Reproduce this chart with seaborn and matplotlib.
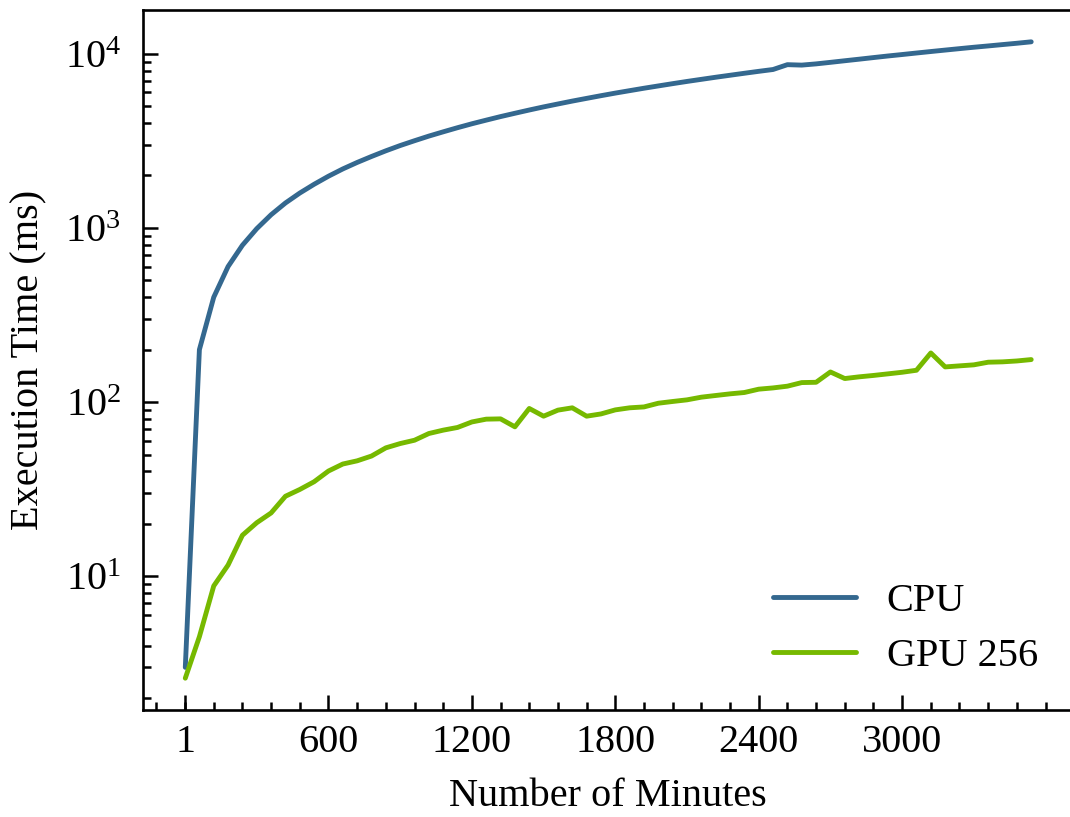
import numpy as np
import pandas as pd
import matplotlib
matplotlib.use("Agg")
import matplotlib.pyplot as plt
from matplotlib.ticker import MultipleLocator, LogLocator, FixedLocator
import seaborn as sns

# Sampling points (minutes)
minutes = [1] + list(range(60, 3541, 60))

cpu_ms = [
    3.0, 200, 400, 600, 795, 990, 1190, 1390, 1585, 1780,
    1980, 2180, 2375, 2570, 2770, 2970, 3165, 3365, 3560, 3760,
    3960, 4155, 4355, 4550, 4750, 4950, 5145, 5345, 5540, 5740,
    5940, 6135, 6335, 6530, 6730, 6930, 7125, 7325, 7520, 7720,
    7920, 8115, 8650, 8600, 8740, 8920, 9110, 9300, 9500, 9700,
    9890, 10090, 10290, 10490, 10690, 10890, 11080, 11280, 11480, 11700,
]

gpu_ms = [
    2.6, 4.5, 8.8, 11.6, 17.2, 20.3, 23.1, 28.8, 31.5, 34.9,
    40.2, 44.1, 46.0, 49.0, 54.6, 57.8, 60.4, 66.0, 69.0, 71.5,
    76.9, 79.8, 80.1, 72.1, 91.9, 83.0, 89.9, 92.7, 83.0, 85.5,
    90.2, 92.7, 93.8, 98.5, 100.8, 103.0, 106.7, 109.1, 111.5, 113.5,
    118.6, 120.6, 123.4, 129.4, 129.9, 148.9, 136.5, 139.6, 142.2, 145.2,
    148.3, 152.3, 191.4, 159.2, 161.4, 163.6, 169.4, 170.2, 172.2, 175.4,
]

series_names = ["CPU", "GPU 256"]
series_colors = ["#34688f", "#76b900"]
x_ticks = [1, 600, 1200, 1800, 2400, 3000]
x_tick_labels = ["1", "600", "1200", "1800", "2400", "3000"]

df = pd.DataFrame({
    "Number of Minutes": minutes * 2,
    "Execution Time (ms)": cpu_ms + gpu_ms,
    "Device": [series_names[0]] * len(minutes) + [series_names[1]] * len(minutes),
})

FS = 29

sns.set_theme(style="ticks")
plt.rcParams.update({
    "font.family": ["Liberation Serif", "DejaVu Serif"],
    "mathtext.fontset": "stix",
    "font.size": FS,
    "text.color": "black",
    "axes.labelcolor": "black",
    "axes.edgecolor": "black",
    "xtick.color": "black",
    "ytick.color": "black",
    "axes.linewidth": 1.9,
    "xtick.direction": "in",
    "ytick.direction": "in",
    "xtick.major.size": 10.5,
    "ytick.major.size": 10.5,
    "xtick.minor.size": 5.5,
    "ytick.minor.size": 6,
    "xtick.major.width": 1.8,
    "ytick.major.width": 1.8,
    "xtick.minor.width": 1.8,
    "ytick.minor.width": 1.8,
    "xtick.major.pad": 10,
    "ytick.major.pad": 16,
})

fig = plt.figure(figsize=(10.70, 8.17), dpi=100)
ax = fig.add_axes([143 / 1070, 107 / 817, 930.5 / 1070, 700 / 817])

sns.lineplot(
    data=df, x="Number of Minutes", y="Execution Time (ms)", hue="Device",
    palette=dict(zip(series_names, series_colors)), linewidth=3.5,
    estimator=None, ax=ax,
)

ax.set_yscale("log")
ax.margins(x=0.05, y=0.05)

ax.xaxis.set_major_locator(FixedLocator(x_ticks))
ax.set_xticklabels(x_tick_labels)
ax.xaxis.set_minor_locator(MultipleLocator(120))
ax.yaxis.set_major_locator(LogLocator(base=10))
ax.yaxis.set_minor_locator(LogLocator(base=10, subs=np.arange(2, 10)))

ax.tick_params(axis="both", which="both", top=False, right=False, labelsize=FS)
for side in ["top", "right", "left", "bottom"]:
    ax.spines[side].set_visible(True)
    ax.spines[side].set_linewidth(1.9)

ax.set_xlabel("Number of Minutes", fontsize=FS, labelpad=12)
ax.set_ylabel("Execution Time (ms)", fontsize=FS, labelpad=12)

leg = ax.legend(loc="lower right", frameon=False, fontsize=FS,
                handlelength=2.08, handletextpad=0.75, labelspacing=0.43,
                borderpad=0.4, borderaxespad=0.0,
                bbox_to_anchor=(0.979, 0.027))
for line in leg.get_lines():
    line.set_linewidth(3.5)

fig.savefig("out.png", dpi=100)
